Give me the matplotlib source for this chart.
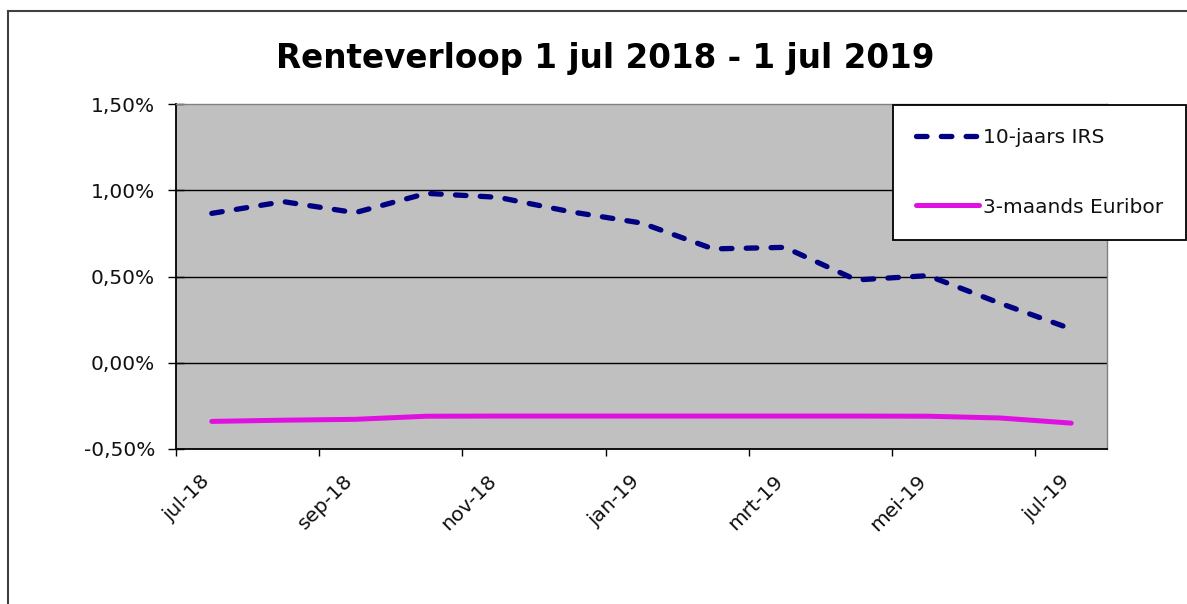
import matplotlib
matplotlib.use('Agg')
import matplotlib.pyplot as plt
from matplotlib.transforms import ScaledTranslation
from matplotlib.lines import Line2D

# ---- data ----
months = ['jul-18', 'aug-18', 'sep-18', 'okt-18', 'nov-18', 'dec-18', 'jan-19',
          'feb-19', 'mrt-19', 'apr-19', 'mei-19', 'jun-19', 'jul-19']
irs_10y = [0.866, 0.934, 0.870, 0.982, 0.959, 0.876, 0.810,
           0.660, 0.669, 0.480, 0.505, 0.346, 0.196]
euribor_3m = [-0.340, -0.333, -0.328, -0.310, -0.309, -0.309, -0.309,
              -0.309, -0.309, -0.309, -0.310, -0.320, -0.350]
xtick_labels = ['jul-18', 'sep-18', 'nov-18', 'jan-19', 'mrt-19', 'mei-19', 'jul-19']
ytick_values = [-0.5, 0.0, 0.5, 1.0, 1.5]
ytick_labels = ['-0,50%', '0,00%', '0,50%', '1,00%', '1,50%']
title = 'Renteverloop 1 jul 2018 - 1 jul 2019'
series_labels = ['10-jaars IRS', '3-maands Euribor']

W, H = 1187, 604
fig = plt.figure(figsize=(W / 100, H / 100), dpi=100)
fig.patch.set_facecolor('white')

ax = fig.add_axes([176 / W, 1 - 449 / H, (1107 - 176) / W, (449 - 104) / H])
ax.set_facecolor('#c0c0c0')

x = list(range(len(months)))
# gridlines
for v in ytick_values[1:-1]:
    ax.axhline(v, color='black', lw=1.0, zorder=1)

l1, = ax.plot(x, irs_10y, color='#000080', lw=3.8, dashes=(2.0, 2.7),
              dash_capstyle='round', solid_capstyle='round', zorder=3,
              label=series_labels[0])
l2, = ax.plot(x, euribor_3m, color='#e010e0', lw=3.6, solid_capstyle='round',
              zorder=3, label=series_labels[1])

ax.set_xlim(-0.5, len(months) - 0.5)
ax.set_ylim(ytick_values[0], ytick_values[-1])

ax.set_yticks(ytick_values)
ax.set_yticklabels(ytick_labels)
ax.tick_params(axis='y', direction='inout', length=11, width=1.0, color='black',
               pad=9.5, labelsize=14.5, labelcolor='#111111')

tick_pos = [months.index(t) - 0.5 for t in xtick_labels]
ax.set_xticks(tick_pos)
ax.tick_params(axis='x', direction='out', length=5, width=1.0, color='black',
               labelbottom=False)

offset = ScaledTranslation(31 / 100, -29 / 100, fig.dpi_scale_trans)
for p, lbl in zip(tick_pos, xtick_labels):
    ax.text(p, 0, lbl, transform=ax.get_xaxis_transform() + offset,
            rotation=45, ha='right', va='center', rotation_mode='anchor',
            fontsize=14.5, color='#111111', clip_on=False)

for s in ['left', 'bottom']:
    ax.spines[s].set_color('black')
    ax.spines[s].set_linewidth(1.3)
for s in ['top', 'right']:
    ax.spines[s].set_color('#808080')
    ax.spines[s].set_linewidth(1.0)

fig.text(605 / W, 1 - 68 / H, title, ha='center', va='baseline',
         fontsize=23.5, fontweight='bold', color='black')

leg = fig.legend([l1, l2], series_labels, loc='upper left',
                 bbox_to_anchor=(893 / W, 1 - 105 / H), bbox_transform=fig.transFigure,
                 borderaxespad=0, frameon=True, fancybox=False, framealpha=1,
                 edgecolor='black', fontsize=14.5, handlelength=3.1,
                 handletextpad=0.2, labelspacing=2.5, borderpad=1.15)
leg.get_frame().set_linewidth(1.3)
for t in leg.get_texts():
    t.set_color('#111111')

# outer chart border
fig.add_artist(Line2D([8 / W, 8 / W], [0, 1 - 11 / H], transform=fig.transFigure,
                      color='#404040', lw=1.5))
fig.add_artist(Line2D([8 / W, 1], [1 - 11 / H, 1 - 11 / H], transform=fig.transFigure,
                      color='#404040', lw=1.5))

fig.savefig('out.png', dpi=100)
